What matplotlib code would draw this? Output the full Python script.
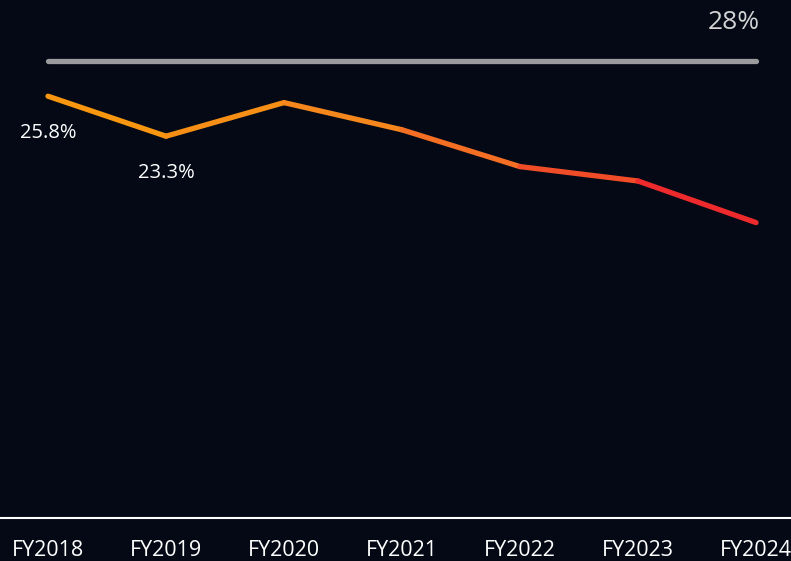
import numpy as np
import matplotlib.pyplot as plt
from matplotlib.colors import LinearSegmentedColormap

# Data
years = ['FY2018', 'FY2019', 'FY2020', 'FY2021', 'FY2022', 'FY2023', 'FY2024']
rates = [25.8, 23.3, 25.4, 23.7, 21.4, 20.5, 17.9]
benchmark = 28
label_idx = [0, 1]

bg = '#040915'
fig = plt.figure(figsize=(7.91, 5.61), dpi=100, facecolor=bg)
ax = fig.add_axes([0, (561 - 518) / 561, 1, 518 / 561])
ax.set_facecolor(bg)

x = np.arange(len(years))

# benchmark line
ax.plot([x[0], x[-1]], [benchmark, benchmark], color='#9b9b9d', lw=3.8,
        solid_capstyle='round', zorder=2)
ax.text(x[-1] + 0.03, benchmark + 2.4, f'{benchmark}%', color='#d4d4d6',
        fontsize=19, ha='right', va='center', family='Open Sans')

# gradient line, one colour per segment
cmap = LinearSegmentedColormap.from_list('grad', ['#f99b0c', '#f58420', '#ee1c2e'])
for i in range(len(x) - 1):
    c = cmap((i + 0.6) / (len(x) - 1))
    ax.plot(x[i:i + 2], rates[i:i + 2], color=c, lw=3.8,
            solid_capstyle='round', zorder=3)

for i in label_idx:
    ax.text(x[i], rates[i] - 2.3, f'{rates[i]}%', color='white', fontsize=14.5,
            ha='center', va='center', family='Open Sans')

ax.set_xlim(-48 / 118, 6 + 35 / 118)
ax.set_ylim(28 - 457 / 16, 28 + 61 / 16)

for s in ['top', 'right', 'left']:
    ax.spines[s].set_visible(False)
ax.spines['bottom'].set_color('white')
ax.spines['bottom'].set_linewidth(1.5)
ax.set_yticks([])
ax.set_xticks(x)
ax.set_xticklabels(years, color='white', fontsize=15.5,
                   family=['Open Sans', 'DejaVu Sans'])
ax.tick_params(axis='x', length=0, pad=16)

fig.savefig('out.png', dpi=100, facecolor=bg)
